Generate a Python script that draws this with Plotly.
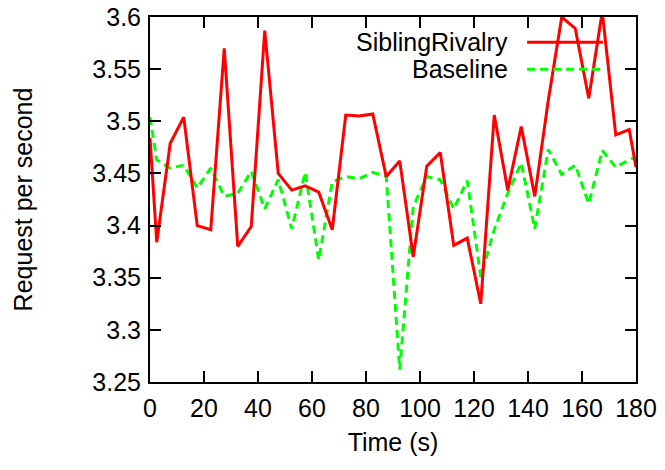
import plotly.graph_objects as go

# sample times (s)
time_s = [0, 2.5, 7.5, 12.5, 17.5, 22.5, 27.5, 32.5, 37.5, 42.5, 47.5, 52.5, 57.5,
          62.5, 67.5, 72.5, 77.5, 82.5, 87.5, 92.5, 97.5, 102.5, 107.5, 112.5, 117.5,
          122.5, 127.5, 132.5, 137.5, 142.5, 147.5, 152.5, 157.5, 162.5, 167.5,
          172.5, 177.5, 180]

sibling_rivalry = [3.484, 3.384, 3.479, 3.504, 3.400, 3.396, 3.570, 3.380, 3.399,
                   3.587, 3.450, 3.434, 3.438, 3.432, 3.396, 3.506, 3.505, 3.507,
                   3.447, 3.462, 3.370, 3.457, 3.470, 3.381, 3.388, 3.325, 3.506,
                   3.434, 3.495, 3.428, 3.520, 3.600, 3.589, 3.522, 3.605, 3.487,
                   3.492, 3.456]

baseline = [3.504, 3.463, 3.455, 3.458, 3.436, 3.455, 3.428, 3.431, 3.452, 3.416,
            3.444, 3.397, 3.451, 3.367, 3.442, 3.447, 3.445, 3.451, 3.447, 3.262,
            3.418, 3.447, 3.444, 3.416, 3.443, 3.351, 3.396, 3.431, 3.460, 3.397,
            3.473, 3.449, 3.458, 3.421, 3.472, 3.456, 3.463, 3.466]

x_ticks = [0, 20, 40, 60, 80, 100, 120, 140, 160, 180]
y_ticks = [3.25, 3.3, 3.35, 3.4, 3.45, 3.5, 3.55, 3.6]
y_tick_text = ["3.25", "3.3", "3.35", "3.4", "3.45", "3.5", "3.55", "3.6"]

FONT = "Liberation Sans, Arial, sans-serif"
FS = 25
RED = "#ff0000"
GREEN = "#00ff00"

fig = go.Figure()

fig.add_trace(
    go.Scatter(
        x=time_s,
        y=baseline,
        mode="lines",
        name="Baseline",
        line=dict(color=GREEN, width=3, dash="8px,5px"),
    )
)
fig.add_trace(
    go.Scatter(
        x=time_s,
        y=sibling_rivalry,
        mode="lines",
        name="SiblingRivalry",
        line=dict(color=RED, width=3),
    )
)

# gnuplot style key: text on the left, sample line on the right
key = [("SiblingRivalry", RED, "solid", 0.931), ("Baseline", GREEN, "8px,5px", 0.857)]
for label, color, dash, ky in key:
    fig.add_annotation(
        x=0.741, y=ky, xref="paper", yref="paper",
        text=label, showarrow=False, xanchor="right", yanchor="middle",
        font=dict(family=FONT, size=FS, color="black"),
    )
    fig.add_shape(
        type="line", xref="paper", yref="paper",
        x0=0.776, x1=0.932, y0=ky, y1=ky,
        line=dict(color=color, width=3, dash=dash),
    )

axis_common = dict(
    showline=True,
    linecolor="black",
    linewidth=2,
    mirror="allticks",
    ticks="inside",
    ticklen=11,
    tickwidth=1.5,
    tickcolor="black",
    showgrid=False,
    zeroline=False,
    automargin=False,
    ticklabeloverflow="allow",
    tickfont=dict(family=FONT, size=FS, color="black"),
)

fig.update_xaxes(
    range=[0, 180],
    tickvals=x_ticks,
    ticklabelstandoff=3,
    title=dict(text="Time (s)", font=dict(family=FONT, size=FS, color="black"), standoff=12),
    **axis_common,
)
fig.update_yaxes(
    range=[3.25, 3.6],
    tickvals=y_ticks,
    ticktext=y_tick_text,
    ticklabelstandoff=2,
    title=dict(text="Request per second", font=dict(family=FONT, size=FS, color="black"), standoff=53),
    **axis_common,
)

fig.update_layout(
    width=665,
    height=470,
    margin=dict(l=150, r=29, t=17, b=88),
    plot_bgcolor="white",
    paper_bgcolor="white",
    showlegend=False,
)

# drop the default 8px page margin so the figure sits at the window corner
fig.write_html(
    "out.html",
    config={"displayModeBar": False},
    post_script="document.body.style.margin='0';",
)
